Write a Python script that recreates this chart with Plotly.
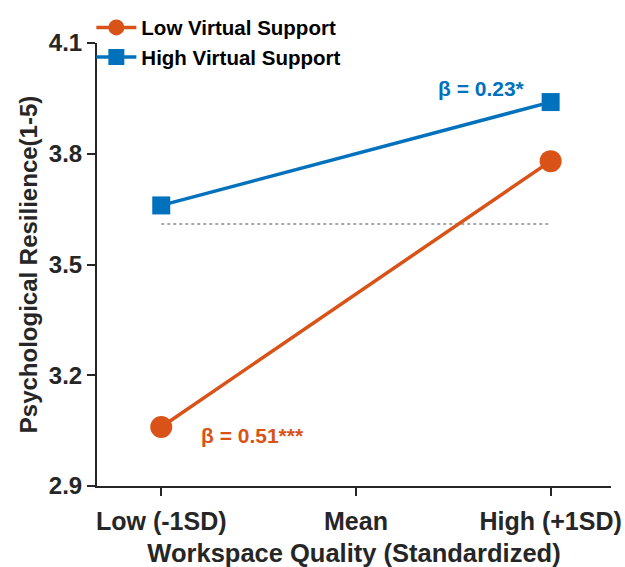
import plotly.graph_objects as go

categories = ["Low (-1SD)", "Mean", "High (+1SD)"]
x_pos = [0, 1, 2]
low_support_x = [0, 2]
low_support = [3.06, 3.78]
high_support_x = [0, 2]
high_support = [3.66, 3.94]
ref_x = [0, 2]
ref_level = [3.61, 3.61]
y_ticks = [2.9, 3.2, 3.5, 3.8, 4.1]
beta_low = "β = 0.51***"
beta_high = "β = 0.23*"

ORANGE = "#D95319"
BLUE = "#0072BD"
DARK = "#262626"
FONT = "Liberation Sans, Arial, sans-serif"

fig = go.Figure()
fig.add_trace(go.Scatter(x=ref_x, y=ref_level, mode="lines",
                         line=dict(color="#8c8c8c", width=1.5, dash="dot"),
                         showlegend=False, hoverinfo="skip"))
fig.add_trace(go.Scatter(x=low_support_x, y=low_support, mode="lines+markers",
                         name="Low Virtual Support",
                         line=dict(color=ORANGE, width=3.5),
                         marker=dict(symbol="circle", size=22, color=ORANGE)))
fig.add_trace(go.Scatter(x=high_support_x, y=high_support, mode="lines+markers",
                         name="High Virtual Support",
                         line=dict(color=BLUE, width=3.5),
                         marker=dict(symbol="square", size=18, color=BLUE)))

fig.add_annotation(x=1.645, y=3.978, xref="x", yref="y", text=beta_high,
                   showarrow=False, font=dict(color=BLUE, size=21, family=FONT, weight="bold"),
                   xanchor="center", yanchor="middle")
fig.add_annotation(x=0.47, y=3.038, xref="x", yref="y", text=beta_low,
                   showarrow=False, font=dict(color=ORANGE, size=21, family=FONT, weight="bold"),
                   xanchor="center", yanchor="middle")

fig.update_layout(
    width=625, height=567,
    margin=dict(l=97, r=14, t=43, b=81, autoexpand=False),
    plot_bgcolor="white", paper_bgcolor="white",
    font=dict(family=FONT, size=24, color=DARK, weight="bold"),
    legend=dict(x=-0.011, y=1.08, xanchor="left", yanchor="top",
                bgcolor="rgba(0,0,0,0)", font=dict(size=20.5, color="black", family=FONT, weight="bold"),
                tracegroupgap=0, itemwidth=40),
    xaxis=dict(range=[-0.33, 2.31], tickvals=x_pos, ticktext=categories,
               showgrid=False, zeroline=False, showline=True, linecolor=DARK, linewidth=2,
               ticks="outside", ticklen=8, tickwidth=2, tickcolor=DARK, automargin=False,
               ticklabelstandoff=4,
               title=dict(text="Workspace Quality (Standardized)", standoff=10,
                          font=dict(size=25.5, family=FONT, weight="bold", color=DARK)),
               tickfont=dict(size=25, family=FONT, weight="bold", color=DARK)),
    yaxis=dict(range=[2.9, 4.1], tickvals=y_ticks, ticktext=[f"{v:.1f}" for v in y_ticks],
               showgrid=False, zeroline=False, showline=True, linecolor=DARK, linewidth=2,
               ticks="outside", ticklen=8, tickwidth=2, tickcolor=DARK, automargin=False,
               title=dict(text="Psychological Resilience(1-5)", standoff=4,
                          font=dict(size=24, family=FONT, weight="bold", color=DARK)),
               tickfont=dict(size=24, family=FONT, weight="bold", color=DARK)),
)

fig.write_html("out.html", config={"displayModeBar": False},
               post_script="document.body.style.margin='0';")
